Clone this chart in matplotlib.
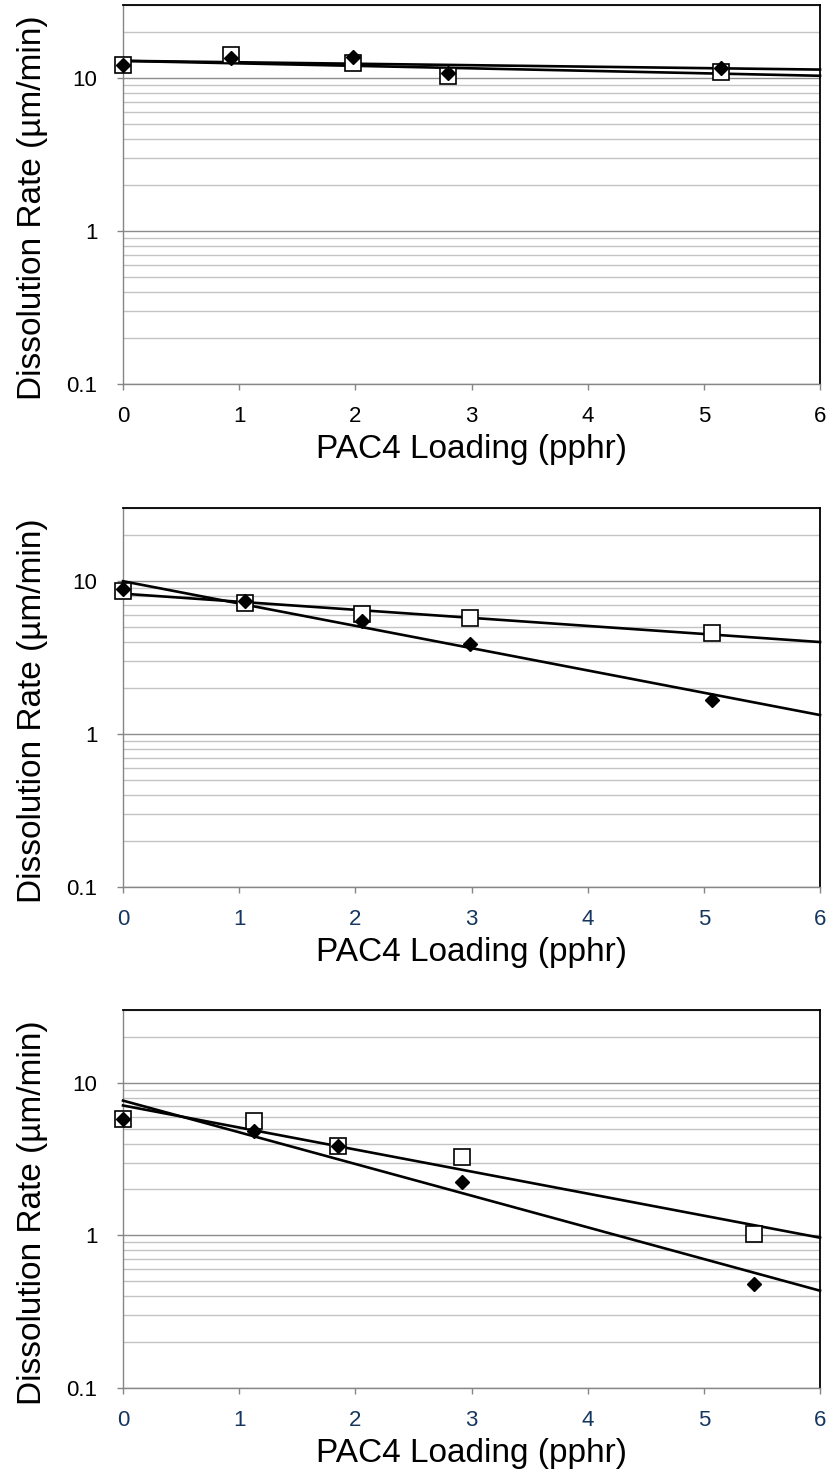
import numpy as np
import matplotlib.pyplot as plt
from matplotlib.ticker import FixedLocator, FixedFormatter, LogLocator, NullFormatter

plt.rcParams['font.family'] = ['Liberation Sans', 'DejaVu Sans']

# PAC4 loading (pphr) for each sample set
load_1 = [0.0, 0.93, 1.98, 2.80, 5.15]
load_2 = [0.0, 1.05, 2.06, 2.99, 5.07]
load_3 = [0.0, 1.13, 1.85, 2.92, 5.43]

# dissolution rates (um/min): open squares / filled diamonds
rate_sq_1 = [12.1, 14.1, 12.5, 10.3, 11.0]
rate_dm_1 = [12.1, 13.6, 13.8, 10.8, 11.7]
rate_sq_2 = [8.64, 7.2, 6.05, 5.75, 4.59]
rate_dm_2 = [8.8, 7.4, 5.5, 3.87, 1.67]
rate_sq_3 = [5.8, 5.6, 3.86, 3.27, 1.02]
rate_dm_3 = [5.8, 4.84, 3.86, 2.24, 0.478]

y_ticks = [0.1, 1, 10]
y_tick_labels = ['0.1', '1', '10']
x_ticks = [0, 1, 2, 3, 4, 5, 6]

panels = [
    (load_1, rate_sq_1, rate_dm_1, 'black'),
    (load_2, rate_sq_2, rate_dm_2, '#17365d'),
    (load_3, rate_sq_3, rate_dm_3, '#17365d'),
]

fig = plt.figure(figsize=(8.32, 14.81), dpi=100)
W, H = 832, 1481
left, right = 123, 820
tops = [5, 508, 1010]
bottoms = [384, 887, 1388]

axis_grey = '#868686'

for (x, ysq, ydm, xcol), top, bot in zip(panels, tops, bottoms):
    ax = fig.add_axes([left / W, 1 - bot / H, (right - left) / W, (bot - top) / H])
    ax.set_yscale('log')
    ax.set_xlim(0, 6)
    ax.set_ylim(0.1, 30)

    # exponential trendlines fitted to each series
    xs = np.linspace(0, 6, 100)
    for yv in (ysq, ydm):
        c = np.polyfit(x, np.log(yv), 1)
        ax.plot(xs, np.exp(np.polyval(c, xs)), color='black', lw=1.9, zorder=3,
                clip_on=False)

    ax.plot(x, ysq, ls='none', marker='s', ms=12, mfc='white', mec='black',
            mew=1.2, zorder=4, clip_on=False)
    ax.plot(x, ydm, ls='none', marker='D', ms=7, mfc='black', mec='black',
            zorder=5, clip_on=False)

    ax.yaxis.set_major_locator(FixedLocator(y_ticks))
    ax.yaxis.set_major_formatter(FixedFormatter(y_tick_labels))
    ax.yaxis.set_minor_locator(LogLocator(base=10, subs=np.arange(2, 10)))
    ax.yaxis.set_minor_formatter(NullFormatter())
    ax.set_xticks(x_ticks)

    ax.grid(True, axis='y', which='major', color='#8c8c8c', lw=1.0, zorder=0)
    ax.grid(True, axis='y', which='minor', color='#c3c3c3', lw=1.0, zorder=0)
    ax.set_axisbelow(True)

    ax.tick_params(axis='y', which='major', direction='out', length=4.5, width=1,
                   color=axis_grey, pad=14, labelsize=16, labelcolor='black')
    ax.tick_params(axis='y', which='minor', length=0)
    ax.tick_params(axis='x', which='major', direction='out', length=4, width=1,
                   color=axis_grey, pad=12, labelsize=16, labelcolor=xcol)

    for s in ('left', 'bottom'):
        ax.spines[s].set_color(axis_grey)
        ax.spines[s].set_linewidth(1.0)
    for s in ('top', 'right'):
        ax.spines[s].set_color('black')
        ax.spines[s].set_linewidth(1.3)

    ax.set_xlabel('PAC4 Loading (pphr)', fontsize=24, labelpad=5)
    ax.set_ylabel('Dissolution Rate (µm/min)', fontsize=24, va='center')
    ax.yaxis.set_label_coords(-0.13, 0.465)

fig.savefig('out.png', dpi=100)
